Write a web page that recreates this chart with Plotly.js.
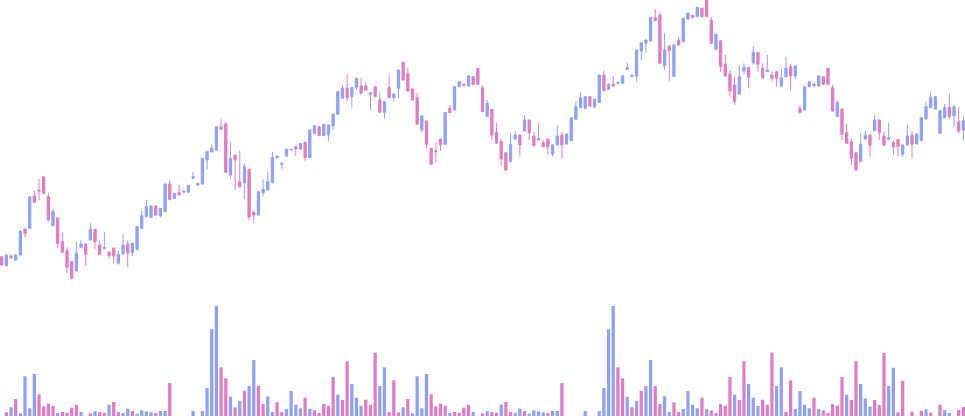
<!DOCTYPE html>
<html>
<head>
<meta charset="utf-8">
<script src="https://cdn.plot.ly/plotly-3.0.1.min.js"></script>
<style>
  html, body { margin: 0; padding: 0; background: #ffffff; }
  #chart { width: 965px; height: 416px; }
</style>
</head>
<body>
<div id="chart"></div>
<script>
const open = [
  43.3, 34.3, 44, 40, 45, 71, 71.7, 104, 110, 123,
  103.3, 74.3, 82, 58.7, 49.3, 38.3, 29.3, 52.7, 56, 60,
  70.7, 55, 51.3, 48, 52, 36.7, 46, 56, 47.3, 50.7,
  71.7, 83.3, 82.7, 94, 84, 88.3, 116, 101.7, 107.3, 107.7,
  107.7, 121.7, 115, 116, 140, 148, 150, 173.3, 176, 125,
  145, 118, 117.3, 130.7, 88, 85, 107.3, 110, 117.3, 142.3,
  135.7, 144, 150, 153.3, 151, 157.7, 142.3, 166.7, 173.3, 164.3,
  165, 174.3, 185.7, 201.7, 211.7, 203.3, 212.7, 214, 214, 205.7,
  213.3, 200, 187.7, 212.7, 202.3, 211.7, 237.7, 226, 211, 202.3,
  170, 179, 151.7, 149.3, 161, 155.7, 191.7, 190, 213.3, 216,
  214, 223.3, 231.7, 212.3, 183.3, 190.7, 167.7, 158.3, 147.3, 138.3,
  161, 165, 169, 180, 164, 160, 157.3, 161, 145.7, 155,
  165, 156, 159.3, 180.7, 192.3, 191.7, 203.3, 193.3, 197.3, 225,
  210.7, 216, 216.7, 216.7, 230.7, 223.3, 224, 249, 256.7, 259,
  282.3, 285, 234, 254, 223.3, 260, 258.3, 281, 284.7, 283.3,
  291.7, 300, 280, 250.7, 259.3, 236, 226, 215, 206, 229,
  232.7, 237.3, 247.7, 231.7, 228.3, 225, 228.3, 214, 223.3, 233.3,
  224, 191.7, 190, 213.3, 216, 214, 223.3, 231.7, 212.3, 183.3,
  191, 167.7, 158.3, 147.3, 138.3, 161, 165, 169.3, 180, 164,
  160.7, 157.3, 160.7, 145.7, 155, 165, 156, 159.3, 181, 192.3,
  191, 166.7, 182.3, 192.7, 184.3, 178.3, 170
];
const high = [
  44, 46, 45.7, 45.5, 69.5, 71.7, 104, 109.3, 121, 123.5,
  106.7, 91, 82.5, 67.3, 52.7, 39, 58.3, 59.7, 56.5, 76.7,
  71, 59.3, 68.3, 48.5, 52.5, 49.3, 66, 59.3, 57, 74,
  89.3, 100, 94.5, 94.5, 92, 116.5, 120, 107, 115, 109.5,
  115, 128, 117, 142, 149, 155.3, 173.5, 181.7, 178.3, 157.7,
  145.5, 149.3, 136.7, 131, 88.5, 108.5, 120.7, 128.3, 148.3, 144.5,
  137, 151, 151, 153.5, 157, 158, 170.5, 175, 174, 176,
  175.5, 186.5, 208.5, 215, 226, 213, 222, 222.7, 218.3, 208,
  214, 207.7, 199, 224.3, 206.5, 230.5, 238, 232.7, 211.5, 207.3,
  184.5, 179.5, 152, 157.7, 161.5, 187.5, 195, 213.5, 218.5, 216.5,
  224.5, 223.5, 232, 215, 200, 191, 176.7, 161, 147.5, 166.7,
  169, 165.5, 185, 180.5, 168.3, 177.3, 160, 161.5, 155.5, 175,
  168.3, 166.5, 182.5, 198.3, 208.3, 203.5, 204, 201, 225.5, 229.3,
  216.5, 224, 218, 224.5, 237.3, 225.5, 250.5, 257.5, 260.5, 282.5,
  290.7, 287.7, 266.7, 254.5, 255.5, 263.3, 282, 287, 285, 293,
  292, 301, 283.3, 266, 259.5, 245, 230, 223.3, 235, 236.7,
  233, 254, 248, 236.7, 245, 228.3, 228.5, 231.7, 243.3, 236,
  234.5, 195, 213.5, 218.5, 216.5, 224.5, 223.5, 232, 215, 200,
  191.5, 176.7, 161.7, 147.5, 166.7, 169.3, 165.5, 185, 180.5, 168.3,
  177.3, 160, 161, 155.5, 175, 168.3, 166.5, 182.5, 198.3, 208.3,
  203.5, 189.5, 196, 206.7, 195, 192.7, 183.3
];
const low = [
  34.5, 34, 41, 39.5, 44.5, 62.7, 71, 97.3, 100, 106,
  78.3, 74, 51.7, 47.5, 26.7, 20.7, 28.3, 51.7, 34, 59.3,
  50.7, 45.5, 50.7, 41.3, 36.7, 35.3, 45.5, 32.7, 44, 50,
  71, 83, 82, 84.5, 82.7, 88, 100, 101, 104.5, 107.3,
  107, 121, 114.5, 115.5, 130.7, 147.5, 149.5, 170, 127, 121.7,
  110, 111.7, 100.7, 80, 76.7, 84.5, 103.3, 109.5, 117, 142,
  130.7, 143.5, 149.7, 144, 150.5, 138.3, 142, 166, 164, 164,
  159, 170, 185, 201, 198.3, 192.3, 210, 206, 209, 190,
  203, 187.3, 181.7, 202, 198.3, 201.7, 219.5, 208.5, 199.5, 175.5,
  167.7, 151.7, 135.3, 137.7, 149.3, 155, 187, 189.5, 213, 214,
  213.5, 215.5, 215.5, 188, 183, 160, 156, 135, 129.5, 138,
  160.5, 143.3, 168.5, 160, 154, 159.5, 153, 145, 143.3, 154.5,
  141.7, 155.5, 159, 180.5, 192, 191.5, 193.5, 191.7, 197, 209,
  210.5, 213.5, 216.5, 216.5, 230, 223, 218.3, 239.3, 247.3, 258.5,
  279, 236, 230, 218.3, 223, 254.5, 258, 280.5, 282, 283,
  283, 283, 256, 250, 228.3, 223, 203.3, 195, 205.5, 225.7,
  211.7, 235, 228.3, 222, 228, 218.3, 213.3, 212.7, 222.7, 209.3,
  220.7, 187, 189.5, 213, 212.7, 213.5, 215.5, 215.5, 188.5, 183,
  160, 156, 135, 129.5, 138, 160.5, 143.3, 168.5, 160, 154,
  160, 145, 144, 143.3, 154.5, 141.7, 155.5, 159, 180.5, 192,
  190.5, 166.5, 182, 180.7, 173.3, 166.7, 159.3
];
const close = [
  35, 45, 42.3, 45, 69, 66.7, 103.3, 97.7, 109, 106.7,
  80, 88.3, 56.7, 47.7, 32.7, 21.7, 46.7, 56, 45.7, 70.7,
  58.3, 45.7, 52.7, 44.3, 44, 45.7, 55, 46.7, 56.7, 73.3,
  84.3, 93.3, 94, 85, 91.7, 116, 100.7, 106.7, 105, 109,
  114.7, 123.3, 116.7, 141.7, 148.7, 151.7, 173.3, 170.7, 127.7, 141.7,
  140, 113.3, 133.3, 82.7, 85, 108.3, 110.7, 118.3, 142.7, 144,
  136.7, 150.7, 150.7, 151, 156.7, 142.3, 170, 174, 164.3, 175.7,
  175, 186, 208.3, 211.7, 202.3, 212.3, 221.7, 206.7, 210, 207.3,
  203.3, 187.7, 198.3, 202.3, 206, 230, 220, 209, 200, 176,
  184, 155.7, 135.7, 148.3, 155, 187.3, 187.3, 213.3, 218.3, 214.3,
  224, 215.7, 215.7, 188.3, 196.7, 165, 156.7, 141, 130, 155.7,
  165, 155, 180, 167.3, 154.3, 161.7, 153.3, 153.3, 155, 164,
  155, 166, 182.3, 193.3, 202.3, 203.3, 194, 200.7, 225, 209.3,
  216, 214, 217.7, 224, 232.3, 225, 250, 257.3, 260, 282.3,
  279.3, 236.7, 250, 249.3, 255, 255, 281.7, 286.7, 282.7, 292.7,
  283.3, 283.3, 256.7, 265.7, 233.3, 224, 209.3, 198.3, 223.3, 232.7,
  222.7, 247.7, 235.7, 222.3, 230, 221.7, 221.7, 222.3, 231.7, 224,
  234, 187.3, 213.3, 218.3, 214.3, 224, 215.7, 215.7, 189, 197.3,
  165.7, 156.7, 141.7, 130, 155.7, 165, 154.7, 180, 167.3, 154.7,
  162.3, 153.3, 153.3, 155, 164, 155.7, 166, 182.3, 193.3, 202.3,
  203.3, 189.3, 192.3, 183.3, 193.3, 169, 179.3
];
const volume = [
  0, 37, 87, 170, 27, 397, 77, 420, 217, 97,
  123, 103, 30, 40, 33, 83, 113, 40, 0, 27,
  47, 40, 33, 113, 140, 40, 30, 73, 50, 23,
  57, 47, 37, 30, 50, 50, 330, 0, 0, 0,
  0, 50, 0, 50, 280, 867, 1100, 487, 377, 193,
  87, 150, 253, 300, 560, 300, 120, 197, 40, 137,
  40, 70, 250, 113, 77, 183, 70, 57, 30, 120,
  103, 390, 213, 160, 547, 320, 183, 100, 163, 113,
  633, 300, 487, 40, 357, 37, 87, 170, 27, 397,
  77, 420, 217, 97, 123, 103, 30, 40, 33, 83,
  113, 40, 0, 27, 47, 40, 33, 113, 140, 40,
  30, 73, 50, 23, 57, 47, 37, 30, 50, 50,
  330, 0, 0, 0, 0, 50, 0, 0, 50, 280,
  867, 1100, 487, 377, 193, 87, 150, 253, 300, 560,
  300, 120, 197, 40, 137, 40, 70, 250, 113, 77,
  183, 70, 57, 30, 120, 103, 390, 213, 160, 547,
  320, 183, 100, 163, 113, 633, 300, 487, 40, 357,
  70, 250, 113, 77, 183, 70, 57, 30, 120, 103,
  390, 213, 160, 547, 320, 177, 93, 160, 110, 630,
  300, 483, 37, 350, 0, 43, 0, 53, 67, 33,
  0, 113, 60, 30, 0, 60, 90
];
// 1 = up (blue) bar, -1 = down (pink) bar
const volumeSide = [
  1, -1, 1, -1, 1, 1, 1, 1, -1, -1,
  -1, -1, 1, -1, -1, -1, -1, 1, 1, -1,
  1, -1, -1, 1, -1, -1, 1, 1, -1, 1,
  1, 1, 1, -1, 1, 1, -1, 1, 1, 1,
  1, 1, 1, 1, 1, 1, 1, -1, -1, 1,
  -1, 1, -1, 1, 1, -1, -1, 1, 1, -1,
  -1, 1, 1, 1, 1, -1, 1, -1, -1, -1,
  -1, -1, 1, -1, -1, 1, 1, 1, -1, -1,
  -1, 1, 1, -1, -1, -1, 1, -1, 1, 1,
  1, 1, -1, -1, -1, -1, 1, -1, -1, -1,
  -1, 1, 1, -1, 1, -1, -1, 1, -1, -1,
  1, 1, -1, 1, 1, 1, 1, -1, 1, 1,
  -1, 1, 1, 1, 1, 1, 1, 1, 1, 1,
  1, 1, -1, -1, 1, -1, 1, -1, 1, 1,
  -1, -1, 1, 1, -1, -1, 1, 1, 1, 1,
  -1, 1, -1, -1, -1, -1, -1, 1, -1, -1,
  1, 1, 1, -1, -1, -1, 1, 1, -1, -1,
  1, 1, 1, 1, -1, 1, -1, -1, -1, -1,
  -1, 1, -1, -1, 1, 1, 1, -1, -1, -1,
  1, 1, -1, -1, 1, -1, 1, -1, 1, -1,
  1, -1, 1, 1, 1, -1, -1
];

const UP = '#8fa1f7';
const DOWN = '#e07cc6';
const idx = open.map((_, i) => i);

const candles = {
  type: 'candlestick',
  x: idx, open: open, high: high, low: low, close: close,
  xaxis: 'x', yaxis: 'y',
  whiskerwidth: 0,
  increasing: { line: { color: UP, width: 1 }, fillcolor: UP },
  decreasing: { line: { color: DOWN, width: 1 }, fillcolor: DOWN },
  hoverinfo: 'skip',
  showlegend: false
};
const bars = {
  type: 'bar',
  x: idx, y: volume,
  xaxis: 'x', yaxis: 'y2',
  marker: { color: volumeSide.map(s => s > 0 ? UP : DOWN), line: { width: 0 } },
  hoverinfo: 'skip',
  showlegend: false
};

const layout = {
  width: 965, height: 416,
  margin: { l: 0, r: 0, t: 0, b: 0, pad: 0 },
  paper_bgcolor: '#ffffff', plot_bgcolor: '#ffffff',
  showlegend: false,
  bargap: 0.3,
  boxgap: 0.3,
  xaxis: { range: [-0.36, 206.35], visible: false, showgrid: false, zeroline: false, rangeslider: { visible: false }, fixedrange: true },
  yaxis: { range: [-116, 300], visible: false, showgrid: false, zeroline: false, fixedrange: true },
  yaxis2: { range: [0, 4160], overlaying: 'y', visible: false, showgrid: false, zeroline: false, fixedrange: true }
};

Plotly.newPlot('chart', [bars, candles], layout, { staticPlot: true, displayModeBar: false });
</script>
</body>
</html>
